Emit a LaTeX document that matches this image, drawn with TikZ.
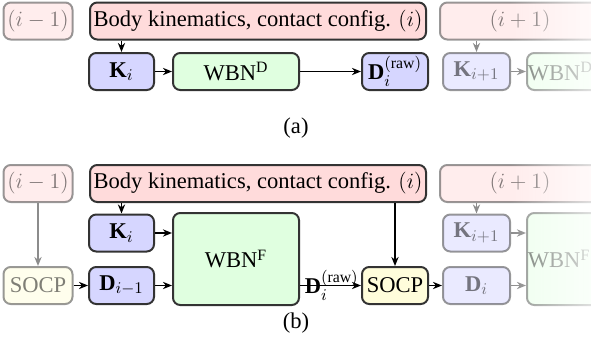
\documentclass[tikz,border=0pt]{standalone}
\usepackage{amsmath, amssymb}
\usepackage{fontspec}
\setmainfont{Liberation Serif}
\usetikzlibrary{arrows.meta, fadings}

\newdimen\pix \pix=0.55pt
\tikzfading[name=faderight, left color=transparent!100, right color=transparent!30]

\begin{document}
\begin{tikzpicture}[x=0.55pt, y=-0.55pt, font=\fontsize{12.4}{14}\selectfont,
  box/.style={draw=black!80, line width=1.1pt, rounded corners=4pt, minimum height=37\pix, inner sep=1pt},
  body/.style={box, fill=red!14},
  kin/.style={box, fill=blue!16},
  net/.style={box, fill=green!12},
  qp/.style={box, fill=yellow!14},
  ghost/.style={opacity=0.5},
  leftbox/.style={text width=100\pix, align=left, inner xsep=0.5pt, anchor=west},
  conn/.style={-{Stealth[length=5pt, width=4pt]}, line width=0.8pt},
  fconn/.style={conn, black!45}]

\useasboundingbox (0,0) rectangle (591,356);

% (a) dataset generation
\node[body, ghost, minimum width=69\pix] (prevA) at (38,21) {$(i-1)$};
\node[body, minimum width=336\pix] (bodyA) at (258,21) {Body kinematics, contact config. $(i)$};
\node[kin, minimum width=65\pix] (KA) at (121.5,71.5) {$\mathbf{K}_i$};
\node[net, minimum width=126\pix] (wbnA) at (236,71.5) {WBN$^{\mathrm{D}}$};
\node[kin, minimum width=66\pix] (DA) at (395,71.5) {$\mathbf{D}_i^{(\mathrm{raw})}$};

\node[body, ghost, minimum width=160\pix] (nextA) at (520,21) {$(i+1)$};
\node[kin, ghost, minimum width=67\pix] (K1A) at (476.5,71.5) {$\mathbf{K}_{i+1}$};
\node[net, ghost, leftbox] (wbn1A) at (526,71.5) {WBN$^{\mathrm{D}}$};

\draw[conn] (bodyA.south -| KA.north) -- (KA.north);
\draw[conn] (KA) -- (wbnA);
\draw[conn] (wbnA) -- (DA);
\draw[fconn] (nextA.south -| K1A.north) -- (K1A.north);
\draw[fconn] (K1A) -- (wbn1A);

\node (capA) at (296,128) {(a)};

% (b) rollout with SOCP
\node[body, ghost, minimum width=69\pix] (prevB) at (38,183.5) {$(i-1)$};
\node[body, minimum width=336\pix] (bodyB) at (258,183.5) {Body kinematics, contact config. $(i)$};
\node[kin, minimum width=65\pix] (KB) at (121.5,233) {$\mathbf{K}_i$};
\node[kin, minimum width=65\pix] (DprevB) at (121.5,285.5) {$\mathbf{D}_{i-1}$};
\node[net, minimum width=126\pix, minimum height=92\pix] (wbnB) at (236,259) {WBN$^{\mathrm{F}}$};
\node[qp, ghost, minimum width=69\pix] (socpL) at (38,285.5) {SOCP};
\node[qp, minimum width=66\pix] (socpB) at (395,285.5) {SOCP};

\node[body, ghost, minimum width=160\pix] (nextB) at (520,183.5) {$(i+1)$};
\node[kin, ghost, minimum width=67\pix] (K1B) at (476.5,233) {$\mathbf{K}_{i+1}$};
\node[kin, ghost, minimum width=67\pix] (DiB) at (476.5,285.5) {$\mathbf{D}_i$};
\node[net, ghost, leftbox, minimum height=92\pix] (wbn1B) at (526,259) {WBN$^{\mathrm{F}}$};

\draw[fconn] (prevB) -- (socpL);
\draw[conn] (socpL) -- (DprevB);
\draw[conn] (bodyB.south -| KB.north) -- (KB.north);
\draw[conn] (KB) -- (KB -| wbnB.west);
\draw[conn] (DprevB) -- (DprevB -| wbnB.west);
\draw[conn] (wbnB.east |- socpB.west) -- node[pos=0.52, inner sep=0pt] (rawB) {$\mathbf{D}_i^{(\mathrm{raw})}$} (socpB.west);
\draw[conn] (bodyB.south -| socpB.north) -- (socpB.north);
\draw[conn] (socpB) -- (DiB);
\draw[fconn] (nextB.south -| K1B.north) -- (K1B.north);
\draw[fconn] (K1B) -- (K1B -| wbn1B.west);
\draw[fconn] (DiB) -- (DiB -| wbn1B.west);

\node (capB) at (296,323) {(b)};

% fade out to the right
\fill[white, path fading=faderight] (510,0) rectangle (591,356);

\end{tikzpicture}
\end{document}
